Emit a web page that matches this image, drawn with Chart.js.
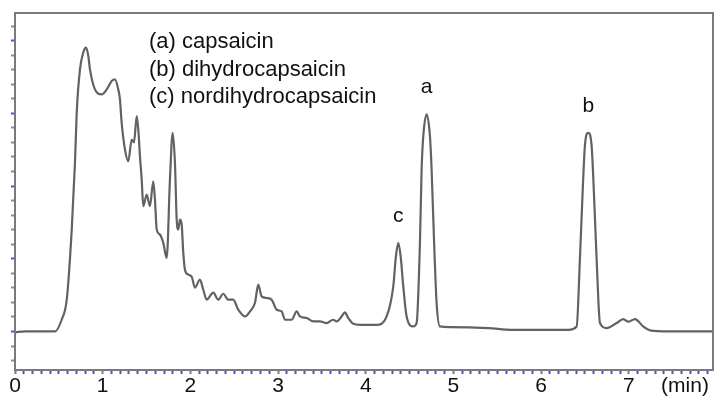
<!DOCTYPE html>
<html>
<head>
<meta charset="utf-8">
<script src="https://cdn.jsdelivr.net/npm/chart.js@4"></script>
<style>
  html, body { margin: 0; padding: 0; background: #fff; }
  #wrap { width: 715px; height: 397px; }
</style>
</head>
<body>
<div id="wrap"><canvas id="chromChart" width="715" height="397"></canvas></div>
<script>
// Retention time (min) and detector signal (arbitrary units)
const times = [0, 0.12, 0.3, 0.456, 0.532, 0.59, 0.647, 0.684, 0.704, 0.741, 0.779, 0.81, 0.836, 0.855, 0.912, 0.989,
  1.046, 1.103, 1.14, 1.178, 1.197, 1.216, 1.254, 1.292, 1.331, 1.357, 1.388, 1.406, 1.425, 1.445, 1.463, 1.502,
  1.539, 1.577, 1.596, 1.616, 1.653, 1.691, 1.73, 1.767, 1.798, 1.824, 1.844, 1.862, 1.881, 1.901, 1.919, 1.938,
  1.976, 2.015, 2.052, 2.109, 2.147, 2.186, 2.261, 2.318, 2.375, 2.432, 2.489, 2.546, 2.623, 2.68, 2.737, 2.774,
  2.813, 2.87, 2.927, 2.984, 3.041, 3.079, 3.155, 3.212, 3.25, 3.326, 3.401, 3.478, 3.554, 3.629, 3.668, 3.725,
  3.763, 3.8, 3.857, 3.934, 4.124, 4.238, 4.314, 4.344, 4.371, 4.398, 4.428, 4.466, 4.542, 4.58, 4.618, 4.637,
  4.656, 4.694, 4.732, 4.751, 4.777, 4.808, 4.846, 4.96, 5.397, 5.664, 5.967, 6.309, 6.405, 6.442, 6.473, 6.499,
  6.537, 6.576, 6.602, 6.633, 6.671, 6.747, 6.861, 6.936, 6.993, 7.07, 7.164, 7.241, 7.449, 7.959];
const signal = [-0.01, 0.0, 0.0, 0.0, 0.161, 0.437, 1.401, 2.324, 3.012, 3.605, 3.839, 3.904, 3.788, 3.605, 3.329, 3.26,
  3.329, 3.444, 3.467, 3.329, 3.191, 2.875, 2.503, 2.342, 2.64, 2.599, 2.961, 2.778, 2.41, 2.089, 1.722, 1.883,
  1.722, 2.066, 1.814, 1.401, 1.332, 1.218, 1.011, 2.09, 2.733, 2.32, 1.539, 1.401, 1.539, 1.47, 1.084, 0.85,
  0.781, 0.753, 0.602, 0.712, 0.574, 0.437, 0.533, 0.437, 0.519, 0.437, 0.437, 0.299, 0.207, 0.275, 0.395, 0.643,
  0.482, 0.46, 0.437, 0.299, 0.275, 0.161, 0.161, 0.275, 0.207, 0.185, 0.138, 0.138, 0.116, 0.161, 0.138, 0.207,
  0.262, 0.185, 0.106, 0.092, 0.092, 0.207, 0.62, 1.033, 1.218, 1.033, 0.62, 0.207, 0.069, 0.116, 1.218, 2.227,
  2.686, 2.985, 2.686, 2.227, 1.309, 0.391, 0.069, 0.061, 0.047, 0.023, 0.023, 0.023, 0.069, 0.988, 1.91, 2.548,
  2.733, 2.548, 1.91, 0.988, 0.116, 0.047, 0.116, 0.171, 0.134, 0.171, 0.069, 0.014, 0.0, 0.0];

// Peak annotations
const peakNames = ['c', 'a', 'b'];
const peakTimes = [4.371, 4.694, 6.537];
const peakHeights = [1.218, 2.985, 2.733];

const legendLines = ['(a) capsaicin', '(b) dihydrocapsaicin', '(c) nordihydrocapsaicin'];
const xTickLabels = ['0', '1', '2', '3', '4', '5', '6', '7'];
const xUnit = '(min)';

const FONT = "'Liberation Sans', Arial, sans-serif";
const AXIS_GRAY = '#7a7a7a';
const TICK_BLUE = '#4656c4';

const points = times.map((t, i) => ({ x: t, y: signal[i] }));

function isWhole(v) {
    return Math.abs(v - Math.round(v)) < 1e-6;
}

// Frame, annotations and axis unit
const overlayPlugin = {
    id: 'overlay',
    afterDraw(chart) {
        const { ctx, chartArea, scales } = chart;
        ctx.save();
        ctx.strokeStyle = AXIS_GRAY;
        ctx.lineWidth = 2;
        ctx.strokeRect(chartArea.left, chartArea.top, chartArea.right - chartArea.left, chartArea.bottom - chartArea.top);

        ctx.fillStyle = '#111';
        ctx.font = '22px ' + FONT;
        ctx.textBaseline = 'middle';
        ctx.textAlign = 'left';
        legendLines.forEach((line, i) => {
            ctx.fillText(line, 149, 42 + i * 27.5);
        });

        ctx.font = '21px ' + FONT;
        ctx.textAlign = 'center';
        peakNames.forEach((name, i) => {
            const px = scales.x.getPixelForValue(peakTimes[i]);
            const py = scales.y.getPixelForValue(peakHeights[i]);
            ctx.fillText(name, px, py - 27);
        });

        ctx.textBaseline = 'top';
        ctx.fillText(xUnit, 685, chartArea.bottom + 6);
        ctx.restore();
    }
};

new Chart(document.getElementById('chromChart').getContext('2d'), {
    type: 'line',
    data: {
        datasets: [{
            data: points,
            borderColor: '#626262',
            borderWidth: 2.2,
            pointRadius: 0,
            cubicInterpolationMode: 'monotone',
            fill: false
        }]
    },
    options: {
        responsive: false,
        animation: false,
        devicePixelRatio: 1,
        layout: { padding: { left: 11, right: 2, top: 13, bottom: -2 } },
        plugins: {
            legend: { display: false },
            tooltip: { enabled: false }
        },
        scales: {
            x: {
                type: 'linear',
                min: 0,
                max: 7.96,
                afterBuildTicks(axis) {
                    const ticks = [];
                    for (let k = 0; k <= 79; k++) ticks.push({ value: k / 10 });
                    axis.ticks = ticks;
                },
                ticks: {
                    autoSkip: false,
                    maxRotation: 0,
                    padding: 2,
                    color: '#111',
                    font: { family: FONT, size: 21, lineHeight: 1 },
                    callback(value) {
                        return isWhole(value) ? xTickLabels[Math.round(value)] : '';
                    }
                },
                grid: {
                    drawOnChartArea: false,
                    tickLength: 4,
                    tickWidth: 2,
                    color: (c) => (c.tick && isWhole(c.tick.value)) ? AXIS_GRAY : TICK_BLUE
                },
                border: { color: AXIS_GRAY, width: 2 }
            },
            y: {
                min: -0.53,
                max: 4.38,
                afterBuildTicks(axis) {
                    const ticks = [];
                    for (let k = -2; k <= 21; k++) ticks.push({ value: k / 5 });
                    axis.ticks = ticks;
                },
                ticks: { display: false },
                grid: {
                    drawOnChartArea: false,
                    tickLength: 4,
                    tickWidth: 2,
                    color: (c) => (c.tick && isWhole(c.tick.value)) ? TICK_BLUE : '#888'
                },
                border: { color: AXIS_GRAY, width: 2 }
            }
        }
    },
    plugins: [overlayPlugin]
});
</script>
</body>
</html>
